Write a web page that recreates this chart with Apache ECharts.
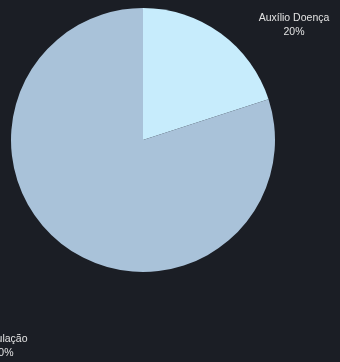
<!DOCTYPE html>
<html><head><meta charset="utf-8">
<script src="https://cdn.jsdelivr.net/npm/echarts@6/dist/echarts.min.js"></script>
<style>html,body{margin:0;padding:0;background:#1b1e25;}#c{width:340px;height:362px;}</style>
</head><body><div id="c"></div>
<script>
const categories = ['Auxílio Doença', 'Simulação'];
const values = [20, 80];
const colors = ['#c7ecfc', '#a9c2d9'];
const labelSpots = [[294, 25.3], [3, 346.3]];
const chart = echarts.init(document.getElementById('c'));
chart.setOption({
  backgroundColor: '#1b1e25',
  animation: false,
  series: [{
    type: 'pie',
    center: [143, 140],
    radius: 132,
    startAngle: 90,
    clockwise: true,
    data: categories.map((n, i) => ({ name: n, value: values[i], itemStyle: { color: colors[i] } })),
    label: {
      show: true,
      formatter: '{b}\n{d}%',
      color: '#e2e2e2',
      fontSize: 10.5,
      fontFamily: 'Liberation Sans, Arial, sans-serif',
      lineHeight: 14,
      align: 'center',
      overflow: 'none',
      width: 200
    },
    labelLine: { show: false },
    labelLayout: function (p) {
      const s = labelSpots[p.dataIndex];
      return { x: s[0], y: s[1], align: 'center', verticalAlign: 'middle', hideOverlap: false, moveOverlap: false };
    }
  }]
});
</script></body></html>
